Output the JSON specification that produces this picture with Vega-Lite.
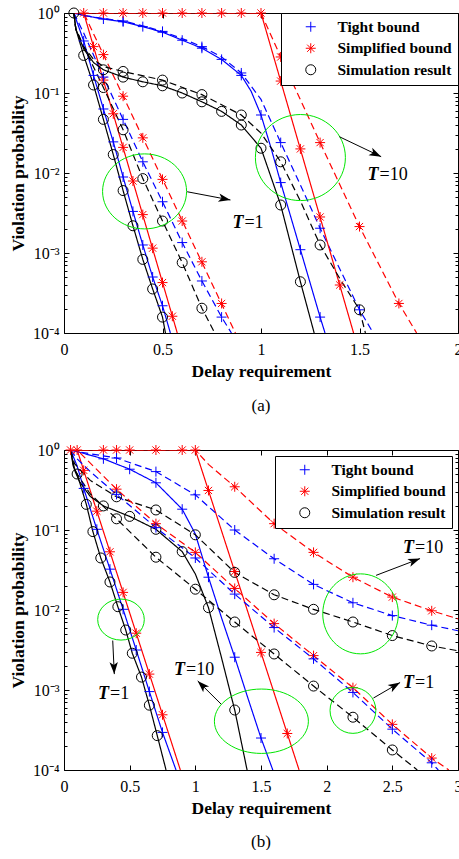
{
"$schema": "https://vega.github.io/schema/vega-lite/v6.json",
"padding": {"left": 9, "top": 5, "right": 0, "bottom": 0},
"spacing": 117,
"bounds": "flush",
"config": {
  "font": "Liberation Serif",
  "view": {"stroke": null},
  "axis": {"grid": false, "domainColor": "#000", "domainWidth": 1, "tickColor": "#000", "tickWidth": 1, "labelColor": "#000", "titleColor": "#000", "labelFont": "Liberation Serif", "titleFont": "Liberation Serif", "labelFontSize": 16, "titleFontSize": 17.5, "titleFontWeight": "bold", "labelFlush": false, "labelOverlap": false},
  "legend": {"fillColor": "white", "strokeColor": "black", "padding": 6, "symbolOffset": 16, "labelOffset": 19, "rowPadding": 4.5, "symbolSize": 100, "symbolStrokeWidth": 1, "labelFont": "Liberation Serif", "labelFontSize": 15.5, "labelFontWeight": "bold", "labelColor": "black", "cornerRadius": 0, "labelLimit": 250},
  "title": {"font": "Liberation Serif", "fontSize": 17, "fontWeight": "normal", "color": "#000"}
},
"datasets": {
"aLines": [
{"kind":"Tight bound","dash":"solid","T":1,"x":0.05,"y":1},{"kind":"Tight bound","dash":"solid","T":1,"x":0.1,"y":0.447},{"kind":"Tight bound","dash":"solid","T":1,"x":0.15,"y":0.166},{"kind":"Tight bound","dash":"solid","T":1,"x":0.2,"y":0.0631},{"kind":"Tight bound","dash":"solid","T":1,"x":0.25,"y":0.0245},{"kind":"Tight bound","dash":"solid","T":1,"x":0.3,"y":0.00891},{"kind":"Tight bound","dash":"solid","T":1,"x":0.35,"y":0.00331},{"kind":"Tight bound","dash":"solid","T":1,"x":0.4,"y":0.00126},{"kind":"Tight bound","dash":"solid","T":1,"x":0.45,"y":0.000501},{"kind":"Tight bound","dash":"solid","T":1,"x":0.5,"y":0.000219},{"kind":"Tight bound","dash":"solid","T":1,"x":0.54,"y":0.0001},
{"kind":"Simplified bound","dash":"solid","T":1,"x":0.05,"y":1},{"kind":"Simplified bound","dash":"solid","T":1,"x":0.1,"y":1},{"kind":"Simplified bound","dash":"solid","T":1,"x":0.575,"y":0.0001},
{"kind":"Simulation result","dash":"solid","T":1,"x":0.05,"y":1},{"kind":"Simulation result","dash":"solid","T":1,"x":0.06,"y":0.631},{"kind":"Simulation result","dash":"solid","T":1,"x":0.1,"y":0.295},{"kind":"Simulation result","dash":"solid","T":1,"x":0.15,"y":0.126},{"kind":"Simulation result","dash":"solid","T":1,"x":0.2,"y":0.0468},{"kind":"Simulation result","dash":"solid","T":1,"x":0.25,"y":0.017},{"kind":"Simulation result","dash":"solid","T":1,"x":0.3,"y":0.00603},{"kind":"Simulation result","dash":"solid","T":1,"x":0.35,"y":0.00219},{"kind":"Simulation result","dash":"solid","T":1,"x":0.4,"y":0.000832},{"kind":"Simulation result","dash":"solid","T":1,"x":0.45,"y":0.000355},{"kind":"Simulation result","dash":"solid","T":1,"x":0.5,"y":0.000158},{"kind":"Simulation result","dash":"solid","T":1,"x":0.515,"y":0.0001},
{"kind":"Tight bound","dash":"dashed","T":1,"x":0.05,"y":1},{"kind":"Tight bound","dash":"dashed","T":1,"x":0.1,"y":0.562},{"kind":"Tight bound","dash":"dashed","T":1,"x":0.2,"y":0.158},{"kind":"Tight bound","dash":"dashed","T":1,"x":0.3,"y":0.0468},{"kind":"Tight bound","dash":"dashed","T":1,"x":0.4,"y":0.0138},{"kind":"Tight bound","dash":"dashed","T":1,"x":0.5,"y":0.00437},{"kind":"Tight bound","dash":"dashed","T":1,"x":0.6,"y":0.00135},{"kind":"Tight bound","dash":"dashed","T":1,"x":0.7,"y":0.000447},{"kind":"Tight bound","dash":"dashed","T":1,"x":0.8,"y":0.000158},{"kind":"Tight bound","dash":"dashed","T":1,"x":0.85,"y":0.0001},
{"kind":"Simplified bound","dash":"dashed","T":1,"x":0.05,"y":1},{"kind":"Simplified bound","dash":"dashed","T":1,"x":0.1,"y":1},{"kind":"Simplified bound","dash":"dashed","T":1,"x":0.87,"y":0.0001},
{"kind":"Simulation result","dash":"dashed","T":1,"x":0.05,"y":1},{"kind":"Simulation result","dash":"dashed","T":1,"x":0.06,"y":0.631},{"kind":"Simulation result","dash":"dashed","T":1,"x":0.1,"y":0.38},{"kind":"Simulation result","dash":"dashed","T":1,"x":0.2,"y":0.117},{"kind":"Simulation result","dash":"dashed","T":1,"x":0.3,"y":0.0347},{"kind":"Simulation result","dash":"dashed","T":1,"x":0.4,"y":0.00851},{"kind":"Simulation result","dash":"dashed","T":1,"x":0.5,"y":0.00251},{"kind":"Simulation result","dash":"dashed","T":1,"x":0.6,"y":0.000759},{"kind":"Simulation result","dash":"dashed","T":1,"x":0.7,"y":0.000204},{"kind":"Simulation result","dash":"dashed","T":1,"x":0.765,"y":0.0001},
{"kind":"Tight bound","dash":"solid","T":10,"x":0.05,"y":1},{"kind":"Tight bound","dash":"solid","T":10,"x":0.1,"y":0.933},{"kind":"Tight bound","dash":"solid","T":10,"x":0.2,"y":0.841},{"kind":"Tight bound","dash":"solid","T":10,"x":0.3,"y":0.776},{"kind":"Tight bound","dash":"solid","T":10,"x":0.4,"y":0.676},{"kind":"Tight bound","dash":"solid","T":10,"x":0.5,"y":0.575},{"kind":"Tight bound","dash":"solid","T":10,"x":0.6,"y":0.457},{"kind":"Tight bound","dash":"solid","T":10,"x":0.7,"y":0.363},{"kind":"Tight bound","dash":"solid","T":10,"x":0.8,"y":0.263},{"kind":"Tight bound","dash":"solid","T":10,"x":0.9,"y":0.166},{"kind":"Tight bound","dash":"solid","T":10,"x":0.95,"y":0.105},{"kind":"Tight bound","dash":"solid","T":10,"x":1.0,"y":0.0531},{"kind":"Tight bound","dash":"solid","T":10,"x":1.05,"y":0.0209},{"kind":"Tight bound","dash":"solid","T":10,"x":1.1,"y":0.00759},{"kind":"Tight bound","dash":"solid","T":10,"x":1.2,"y":0.0011},{"kind":"Tight bound","dash":"solid","T":10,"x":1.3,"y":0.000158},{"kind":"Tight bound","dash":"solid","T":10,"x":1.325,"y":0.0001},
{"kind":"Tight bound","dash":"dashed","T":10,"x":0.05,"y":1},{"kind":"Tight bound","dash":"dashed","T":10,"x":0.1,"y":0.933},{"kind":"Tight bound","dash":"dashed","T":10,"x":0.2,"y":0.851},{"kind":"Tight bound","dash":"dashed","T":10,"x":0.3,"y":0.794},{"kind":"Tight bound","dash":"dashed","T":10,"x":0.4,"y":0.692},{"kind":"Tight bound","dash":"dashed","T":10,"x":0.5,"y":0.589},{"kind":"Tight bound","dash":"dashed","T":10,"x":0.6,"y":0.479},{"kind":"Tight bound","dash":"dashed","T":10,"x":0.7,"y":0.38},{"kind":"Tight bound","dash":"dashed","T":10,"x":0.8,"y":0.282},{"kind":"Tight bound","dash":"dashed","T":10,"x":0.9,"y":0.178},{"kind":"Tight bound","dash":"dashed","T":10,"x":1.0,"y":0.0832},{"kind":"Tight bound","dash":"dashed","T":10,"x":1.1,"y":0.024},{"kind":"Tight bound","dash":"dashed","T":10,"x":1.2,"y":0.00708},{"kind":"Tight bound","dash":"dashed","T":10,"x":1.3,"y":0.00204},{"kind":"Tight bound","dash":"dashed","T":10,"x":1.4,"y":0.000631},{"kind":"Tight bound","dash":"dashed","T":10,"x":1.5,"y":0.000195},{"kind":"Tight bound","dash":"dashed","T":10,"x":1.57,"y":0.0001},
{"kind":"Simplified bound","dash":"solid","T":10,"x":0.05,"y":1},{"kind":"Simplified bound","dash":"solid","T":10,"x":1.0,"y":1},{"kind":"Simplified bound","dash":"solid","T":10,"x":1.47,"y":0.0001},
{"kind":"Simplified bound","dash":"dashed","T":10,"x":0.05,"y":1},{"kind":"Simplified bound","dash":"dashed","T":10,"x":1.0,"y":1},{"kind":"Simplified bound","dash":"dashed","T":10,"x":1.1,"y":0.282},{"kind":"Simplified bound","dash":"dashed","T":10,"x":1.3,"y":0.024},{"kind":"Simplified bound","dash":"dashed","T":10,"x":1.5,"y":0.00214},{"kind":"Simplified bound","dash":"dashed","T":10,"x":1.7,"y":0.000234},{"kind":"Simplified bound","dash":"dashed","T":10,"x":1.79,"y":0.0001},
{"kind":"Simulation result","dash":"solid","T":10,"x":0.05,"y":1},{"kind":"Simulation result","dash":"solid","T":10,"x":0.06,"y":0.631},{"kind":"Simulation result","dash":"solid","T":10,"x":0.1,"y":0.355},{"kind":"Simulation result","dash":"solid","T":10,"x":0.15,"y":0.24},{"kind":"Simulation result","dash":"solid","T":10,"x":0.2,"y":0.195},{"kind":"Simulation result","dash":"solid","T":10,"x":0.3,"y":0.158},{"kind":"Simulation result","dash":"solid","T":10,"x":0.4,"y":0.138},{"kind":"Simulation result","dash":"solid","T":10,"x":0.5,"y":0.123},{"kind":"Simulation result","dash":"solid","T":10,"x":0.6,"y":0.1},{"kind":"Simulation result","dash":"solid","T":10,"x":0.7,"y":0.0776},{"kind":"Simulation result","dash":"solid","T":10,"x":0.8,"y":0.0589},{"kind":"Simulation result","dash":"solid","T":10,"x":0.9,"y":0.0398},{"kind":"Simulation result","dash":"solid","T":10,"x":1.0,"y":0.0204},{"kind":"Simulation result","dash":"solid","T":10,"x":1.1,"y":0.00398},{"kind":"Simulation result","dash":"solid","T":10,"x":1.2,"y":0.000437},{"kind":"Simulation result","dash":"solid","T":10,"x":1.27,"y":0.0001},
{"kind":"Simulation result","dash":"dashed","T":10,"x":0.05,"y":1},{"kind":"Simulation result","dash":"dashed","T":10,"x":0.06,"y":0.631},{"kind":"Simulation result","dash":"dashed","T":10,"x":0.1,"y":0.38},{"kind":"Simulation result","dash":"dashed","T":10,"x":0.15,"y":0.263},{"kind":"Simulation result","dash":"dashed","T":10,"x":0.2,"y":0.214},{"kind":"Simulation result","dash":"dashed","T":10,"x":0.3,"y":0.186},{"kind":"Simulation result","dash":"dashed","T":10,"x":0.5,"y":0.145},{"kind":"Simulation result","dash":"dashed","T":10,"x":0.7,"y":0.0955},{"kind":"Simulation result","dash":"dashed","T":10,"x":0.9,"y":0.0531},{"kind":"Simulation result","dash":"dashed","T":10,"x":1.0,"y":0.0316},{"kind":"Simulation result","dash":"dashed","T":10,"x":1.1,"y":0.0138},{"kind":"Simulation result","dash":"dashed","T":10,"x":1.2,"y":0.00447},{"kind":"Simulation result","dash":"dashed","T":10,"x":1.3,"y":0.00126},{"kind":"Simulation result","dash":"dashed","T":10,"x":1.4,"y":0.000479},{"kind":"Simulation result","dash":"dashed","T":10,"x":1.5,"y":0.000195},{"kind":"Simulation result","dash":"dashed","T":10,"x":1.53,"y":0.0001}
],
"aMarks": [
{"kind":"Tight bound","x":0.1,"y":0.447},{"kind":"Tight bound","x":0.15,"y":0.166},{"kind":"Tight bound","x":0.2,"y":0.0631},{"kind":"Tight bound","x":0.25,"y":0.0245},{"kind":"Tight bound","x":0.3,"y":0.00891},{"kind":"Tight bound","x":0.35,"y":0.00331},{"kind":"Tight bound","x":0.4,"y":0.00126},{"kind":"Tight bound","x":0.45,"y":0.000501},{"kind":"Tight bound","x":0.5,"y":0.000219},
{"kind":"Simplified bound","x":0.1,"y":1},{"kind":"Simplified bound","x":0.15,"y":0.38},{"kind":"Simplified bound","x":0.2,"y":0.145},{"kind":"Simplified bound","x":0.25,"y":0.055},{"kind":"Simplified bound","x":0.3,"y":0.0209},{"kind":"Simplified bound","x":0.35,"y":0.00794},{"kind":"Simplified bound","x":0.4,"y":0.00302},{"kind":"Simplified bound","x":0.45,"y":0.00115},{"kind":"Simplified bound","x":0.5,"y":0.000427},{"kind":"Simplified bound","x":0.55,"y":0.000162},
{"kind":"Simulation result","x":0.1,"y":0.295},{"kind":"Simulation result","x":0.15,"y":0.126},{"kind":"Simulation result","x":0.2,"y":0.0468},{"kind":"Simulation result","x":0.25,"y":0.017},{"kind":"Simulation result","x":0.3,"y":0.00603},{"kind":"Simulation result","x":0.35,"y":0.00219},{"kind":"Simulation result","x":0.4,"y":0.000832},{"kind":"Simulation result","x":0.45,"y":0.000355},{"kind":"Simulation result","x":0.5,"y":0.000158},
{"kind":"Tight bound","x":0.2,"y":0.158},{"kind":"Tight bound","x":0.3,"y":0.0468},{"kind":"Tight bound","x":0.4,"y":0.0138},{"kind":"Tight bound","x":0.5,"y":0.00437},{"kind":"Tight bound","x":0.6,"y":0.00135},{"kind":"Tight bound","x":0.7,"y":0.000447},{"kind":"Tight bound","x":0.8,"y":0.000158},
{"kind":"Simplified bound","x":0.2,"y":0.302},{"kind":"Simplified bound","x":0.3,"y":0.0912},{"kind":"Simplified bound","x":0.4,"y":0.0275},{"kind":"Simplified bound","x":0.5,"y":0.00832},{"kind":"Simplified bound","x":0.6,"y":0.00251},{"kind":"Simplified bound","x":0.7,"y":0.000776},{"kind":"Simplified bound","x":0.8,"y":0.000234},
{"kind":"Simulation result","x":0.2,"y":0.117},{"kind":"Simulation result","x":0.3,"y":0.0347},{"kind":"Simulation result","x":0.4,"y":0.00851},{"kind":"Simulation result","x":0.5,"y":0.00251},{"kind":"Simulation result","x":0.6,"y":0.000759},{"kind":"Simulation result","x":0.7,"y":0.000204},
{"kind":"Tight bound","x":0.2,"y":0.841},{"kind":"Tight bound","x":0.3,"y":0.776},{"kind":"Tight bound","x":0.4,"y":0.676},{"kind":"Tight bound","x":0.5,"y":0.575},{"kind":"Tight bound","x":0.6,"y":0.457},{"kind":"Tight bound","x":0.7,"y":0.363},{"kind":"Tight bound","x":0.8,"y":0.263},{"kind":"Tight bound","x":0.9,"y":0.166},{"kind":"Tight bound","x":1.0,"y":0.0531},{"kind":"Tight bound","x":1.1,"y":0.00759},{"kind":"Tight bound","x":1.2,"y":0.0011},{"kind":"Tight bound","x":1.3,"y":0.000158},
{"kind":"Tight bound","x":0.3,"y":0.794},{"kind":"Tight bound","x":0.5,"y":0.589},{"kind":"Tight bound","x":0.7,"y":0.38},{"kind":"Tight bound","x":0.9,"y":0.178},{"kind":"Tight bound","x":1.1,"y":0.024},{"kind":"Tight bound","x":1.3,"y":0.00204},{"kind":"Tight bound","x":1.5,"y":0.000195},
{"kind":"Simplified bound","x":0.2,"y":1},{"kind":"Simplified bound","x":0.3,"y":1},{"kind":"Simplified bound","x":0.4,"y":1},{"kind":"Simplified bound","x":0.5,"y":1},{"kind":"Simplified bound","x":0.6,"y":1},{"kind":"Simplified bound","x":0.7,"y":1},{"kind":"Simplified bound","x":0.8,"y":1},{"kind":"Simplified bound","x":0.9,"y":1},{"kind":"Simplified bound","x":1.0,"y":1},{"kind":"Simplified bound","x":1.1,"y":0.141},{"kind":"Simplified bound","x":1.2,"y":0.02},{"kind":"Simplified bound","x":1.3,"y":0.00282},{"kind":"Simplified bound","x":1.4,"y":0.000398},
{"kind":"Simplified bound","x":1.1,"y":0.282},{"kind":"Simplified bound","x":1.3,"y":0.024},{"kind":"Simplified bound","x":1.5,"y":0.00214},{"kind":"Simplified bound","x":1.7,"y":0.000234},
{"kind":"Simulation result","x":0.05,"y":1},{"kind":"Simulation result","x":0.2,"y":0.195},{"kind":"Simulation result","x":0.3,"y":0.158},{"kind":"Simulation result","x":0.4,"y":0.138},{"kind":"Simulation result","x":0.5,"y":0.123},{"kind":"Simulation result","x":0.6,"y":0.1},{"kind":"Simulation result","x":0.7,"y":0.0776},{"kind":"Simulation result","x":0.8,"y":0.0589},{"kind":"Simulation result","x":0.9,"y":0.0398},{"kind":"Simulation result","x":1.0,"y":0.0204},{"kind":"Simulation result","x":1.1,"y":0.00398},{"kind":"Simulation result","x":1.2,"y":0.000437},
{"kind":"Simulation result","x":0.3,"y":0.186},{"kind":"Simulation result","x":0.5,"y":0.145},{"kind":"Simulation result","x":0.7,"y":0.0955},{"kind":"Simulation result","x":0.9,"y":0.0531},{"kind":"Simulation result","x":1.1,"y":0.0138},{"kind":"Simulation result","x":1.3,"y":0.00126},{"kind":"Simulation result","x":1.5,"y":0.000195}
],
"bLines": [
{"kind":"Simplified bound","dash":"solid","T":1,"x":0.05,"y":1},{"kind":"Simplified bound","dash":"solid","T":1,"x":0.1,"y":1},{"kind":"Simplified bound","dash":"solid","T":1,"x":0.886,"y":0.0001},
{"kind":"Tight bound","dash":"solid","T":1,"x":0.05,"y":1},{"kind":"Tight bound","dash":"solid","T":1,"x":0.1,"y":0.631},{"kind":"Tight bound","dash":"solid","T":1,"x":0.15,"y":0.331},{"kind":"Tight bound","dash":"solid","T":1,"x":0.25,"y":0.102},{"kind":"Tight bound","dash":"solid","T":1,"x":0.35,"y":0.0324},{"kind":"Tight bound","dash":"solid","T":1,"x":0.45,"y":0.0102},{"kind":"Tight bound","dash":"solid","T":1,"x":0.55,"y":0.00316},{"kind":"Tight bound","dash":"solid","T":1,"x":0.65,"y":0.000955},{"kind":"Tight bound","dash":"solid","T":1,"x":0.75,"y":0.000295},{"kind":"Tight bound","dash":"solid","T":1,"x":0.853,"y":0.0001},
{"kind":"Simulation result","dash":"solid","T":1,"x":0.05,"y":1},{"kind":"Simulation result","dash":"solid","T":1,"x":0.07,"y":0.631},{"kind":"Simulation result","dash":"solid","T":1,"x":0.1,"y":0.501},{"kind":"Simulation result","dash":"solid","T":1,"x":0.17,"y":0.209},{"kind":"Simulation result","dash":"solid","T":1,"x":0.22,"y":0.0955},{"kind":"Simulation result","dash":"solid","T":1,"x":0.28,"y":0.0447},{"kind":"Simulation result","dash":"solid","T":1,"x":0.35,"y":0.0224},{"kind":"Simulation result","dash":"solid","T":1,"x":0.41,"y":0.011},{"kind":"Simulation result","dash":"solid","T":1,"x":0.47,"y":0.00562},{"kind":"Simulation result","dash":"solid","T":1,"x":0.52,"y":0.00288},{"kind":"Simulation result","dash":"solid","T":1,"x":0.59,"y":0.00145},{"kind":"Simulation result","dash":"solid","T":1,"x":0.65,"y":0.000646},{"kind":"Simulation result","dash":"solid","T":1,"x":0.71,"y":0.000269},{"kind":"Simulation result","dash":"solid","T":1,"x":0.777,"y":0.0001},
{"kind":"Simplified bound","dash":"solid","T":10,"x":0.05,"y":1},{"kind":"Simplified bound","dash":"solid","T":10,"x":1.0,"y":1},{"kind":"Simplified bound","dash":"solid","T":10,"x":1.79,"y":0.0001},
{"kind":"Tight bound","dash":"solid","T":10,"x":0.05,"y":1},{"kind":"Tight bound","dash":"solid","T":10,"x":0.1,"y":0.955},{"kind":"Tight bound","dash":"solid","T":10,"x":0.3,"y":0.776},{"kind":"Tight bound","dash":"solid","T":10,"x":0.5,"y":0.575},{"kind":"Tight bound","dash":"solid","T":10,"x":0.7,"y":0.389},{"kind":"Tight bound","dash":"solid","T":10,"x":0.9,"y":0.182},{"kind":"Tight bound","dash":"solid","T":10,"x":1.0,"y":0.0891},{"kind":"Tight bound","dash":"solid","T":10,"x":1.1,"y":0.0257},{"kind":"Tight bound","dash":"solid","T":10,"x":1.2,"y":0.00794},{"kind":"Tight bound","dash":"solid","T":10,"x":1.3,"y":0.00257},{"kind":"Tight bound","dash":"solid","T":10,"x":1.4,"y":0.000794},{"kind":"Tight bound","dash":"solid","T":10,"x":1.5,"y":0.000251},{"kind":"Tight bound","dash":"solid","T":10,"x":1.59,"y":0.0001},
{"kind":"Simulation result","dash":"solid","T":10,"x":0.05,"y":1},{"kind":"Simulation result","dash":"solid","T":10,"x":0.08,"y":0.562},{"kind":"Simulation result","dash":"solid","T":10,"x":0.12,"y":0.398},{"kind":"Simulation result","dash":"solid","T":10,"x":0.2,"y":0.263},{"kind":"Simulation result","dash":"solid","T":10,"x":0.3,"y":0.2},{"kind":"Simulation result","dash":"solid","T":10,"x":0.5,"y":0.148},{"kind":"Simulation result","dash":"solid","T":10,"x":0.7,"y":0.102},{"kind":"Simulation result","dash":"solid","T":10,"x":0.9,"y":0.0537},{"kind":"Simulation result","dash":"solid","T":10,"x":1.0,"y":0.0282},{"kind":"Simulation result","dash":"solid","T":10,"x":1.1,"y":0.0107},{"kind":"Simulation result","dash":"solid","T":10,"x":1.2,"y":0.00251},{"kind":"Simulation result","dash":"solid","T":10,"x":1.3,"y":0.000562},{"kind":"Simulation result","dash":"solid","T":10,"x":1.394,"y":0.0001},
{"kind":"Simplified bound","dash":"dashed","T":10,"x":0.05,"y":1},{"kind":"Simplified bound","dash":"dashed","T":10,"x":1.0,"y":1},{"kind":"Simplified bound","dash":"dashed","T":10,"x":1.1,"y":0.661},{"kind":"Simplified bound","dash":"dashed","T":10,"x":1.3,"y":0.347},{"kind":"Simplified bound","dash":"dashed","T":10,"x":1.6,"y":0.12},{"kind":"Simplified bound","dash":"dashed","T":10,"x":1.9,"y":0.0525},{"kind":"Simplified bound","dash":"dashed","T":10,"x":2.2,"y":0.0257},{"kind":"Simplified bound","dash":"dashed","T":10,"x":2.5,"y":0.0145},{"kind":"Simplified bound","dash":"dashed","T":10,"x":2.8,"y":0.00977},{"kind":"Simplified bound","dash":"dashed","T":10,"x":3.0,"y":0.00776},
{"kind":"Tight bound","dash":"dashed","T":10,"x":0.05,"y":1},{"kind":"Tight bound","dash":"dashed","T":10,"x":0.1,"y":0.955},{"kind":"Tight bound","dash":"dashed","T":10,"x":0.4,"y":0.794},{"kind":"Tight bound","dash":"dashed","T":10,"x":0.7,"y":0.537},{"kind":"Tight bound","dash":"dashed","T":10,"x":1.0,"y":0.275},{"kind":"Tight bound","dash":"dashed","T":10,"x":1.3,"y":0.1},{"kind":"Tight bound","dash":"dashed","T":10,"x":1.6,"y":0.0437},{"kind":"Tight bound","dash":"dashed","T":10,"x":1.9,"y":0.0209},{"kind":"Tight bound","dash":"dashed","T":10,"x":2.2,"y":0.0123},{"kind":"Tight bound","dash":"dashed","T":10,"x":2.5,"y":0.00851},{"kind":"Tight bound","dash":"dashed","T":10,"x":2.8,"y":0.00646},{"kind":"Tight bound","dash":"dashed","T":10,"x":3.0,"y":0.0055},
{"kind":"Simulation result","dash":"dashed","T":10,"x":0.05,"y":1},{"kind":"Simulation result","dash":"dashed","T":10,"x":0.08,"y":0.676},{"kind":"Simulation result","dash":"dashed","T":10,"x":0.2,"y":0.417},{"kind":"Simulation result","dash":"dashed","T":10,"x":0.4,"y":0.26},{"kind":"Simulation result","dash":"dashed","T":10,"x":0.7,"y":0.178},{"kind":"Simulation result","dash":"dashed","T":10,"x":1.0,"y":0.0871},{"kind":"Simulation result","dash":"dashed","T":10,"x":1.3,"y":0.0295},{"kind":"Simulation result","dash":"dashed","T":10,"x":1.6,"y":0.0155},{"kind":"Simulation result","dash":"dashed","T":10,"x":1.9,"y":0.0102},{"kind":"Simulation result","dash":"dashed","T":10,"x":2.2,"y":0.00708},{"kind":"Simulation result","dash":"dashed","T":10,"x":2.5,"y":0.00479},{"kind":"Simulation result","dash":"dashed","T":10,"x":2.8,"y":0.00355},{"kind":"Simulation result","dash":"dashed","T":10,"x":3.0,"y":0.00309},
{"kind":"Simplified bound","dash":"dashed","T":1,"x":0.05,"y":1},{"kind":"Simplified bound","dash":"dashed","T":1,"x":0.1,"y":1},{"kind":"Simplified bound","dash":"dashed","T":1,"x":0.4,"y":0.324},{"kind":"Simplified bound","dash":"dashed","T":1,"x":0.7,"y":0.12},{"kind":"Simplified bound","dash":"dashed","T":1,"x":1.0,"y":0.0525},{"kind":"Simplified bound","dash":"dashed","T":1,"x":1.3,"y":0.0186},{"kind":"Simplified bound","dash":"dashed","T":1,"x":1.6,"y":0.00676},{"kind":"Simplified bound","dash":"dashed","T":1,"x":1.9,"y":0.00269},{"kind":"Simplified bound","dash":"dashed","T":1,"x":2.2,"y":0.00107},{"kind":"Simplified bound","dash":"dashed","T":1,"x":2.5,"y":0.000372},{"kind":"Simplified bound","dash":"dashed","T":1,"x":2.8,"y":0.000141},{"kind":"Simplified bound","dash":"dashed","T":1,"x":2.93,"y":0.0001},
{"kind":"Tight bound","dash":"dashed","T":1,"x":0.05,"y":1},{"kind":"Tight bound","dash":"dashed","T":1,"x":0.1,"y":0.776},{"kind":"Tight bound","dash":"dashed","T":1,"x":0.2,"y":0.537},{"kind":"Tight bound","dash":"dashed","T":1,"x":0.4,"y":0.279},{"kind":"Tight bound","dash":"dashed","T":1,"x":0.7,"y":0.107},{"kind":"Tight bound","dash":"dashed","T":1,"x":1.0,"y":0.0447},{"kind":"Tight bound","dash":"dashed","T":1,"x":1.3,"y":0.0158},{"kind":"Tight bound","dash":"dashed","T":1,"x":1.6,"y":0.00603},{"kind":"Tight bound","dash":"dashed","T":1,"x":1.9,"y":0.00245},{"kind":"Tight bound","dash":"dashed","T":1,"x":2.2,"y":0.000933},{"kind":"Tight bound","dash":"dashed","T":1,"x":2.5,"y":0.000324},{"kind":"Tight bound","dash":"dashed","T":1,"x":2.8,"y":0.000123},{"kind":"Tight bound","dash":"dashed","T":1,"x":2.85,"y":0.0001},
{"kind":"Simulation result","dash":"dashed","T":1,"x":0.05,"y":1},{"kind":"Simulation result","dash":"dashed","T":1,"x":0.08,"y":0.562},{"kind":"Simulation result","dash":"dashed","T":1,"x":0.2,"y":0.282},{"kind":"Simulation result","dash":"dashed","T":1,"x":0.4,"y":0.138},{"kind":"Simulation result","dash":"dashed","T":1,"x":0.7,"y":0.0457},{"kind":"Simulation result","dash":"dashed","T":1,"x":1.0,"y":0.0182},{"kind":"Simulation result","dash":"dashed","T":1,"x":1.3,"y":0.00708},{"kind":"Simulation result","dash":"dashed","T":1,"x":1.6,"y":0.00282},{"kind":"Simulation result","dash":"dashed","T":1,"x":1.9,"y":0.00112},{"kind":"Simulation result","dash":"dashed","T":1,"x":2.2,"y":0.000457},{"kind":"Simulation result","dash":"dashed","T":1,"x":2.5,"y":0.000178},{"kind":"Simulation result","dash":"dashed","T":1,"x":2.69,"y":0.0001}
],
"bMarks": [
{"kind":"Simplified bound","x":0.05,"y":1},{"kind":"Simplified bound","x":0.1,"y":1},{"kind":"Simplified bound","x":0.15,"y":0.557},{"kind":"Simplified bound","x":0.25,"y":0.172},{"kind":"Simplified bound","x":0.35,"y":0.0534},{"kind":"Simplified bound","x":0.45,"y":0.0166},{"kind":"Simplified bound","x":0.55,"y":0.00513},{"kind":"Simplified bound","x":0.65,"y":0.00158},{"kind":"Simplified bound","x":0.75,"y":0.00049},
{"kind":"Tight bound","x":0.15,"y":0.331},{"kind":"Tight bound","x":0.25,"y":0.102},{"kind":"Tight bound","x":0.35,"y":0.0324},{"kind":"Tight bound","x":0.45,"y":0.0102},{"kind":"Tight bound","x":0.55,"y":0.00316},{"kind":"Tight bound","x":0.65,"y":0.000955},{"kind":"Tight bound","x":0.75,"y":0.000295},
{"kind":"Simulation result","x":0.1,"y":0.501},{"kind":"Simulation result","x":0.17,"y":0.209},{"kind":"Simulation result","x":0.22,"y":0.0955},{"kind":"Simulation result","x":0.28,"y":0.0447},{"kind":"Simulation result","x":0.35,"y":0.0224},{"kind":"Simulation result","x":0.41,"y":0.011},{"kind":"Simulation result","x":0.47,"y":0.00562},{"kind":"Simulation result","x":0.52,"y":0.00288},{"kind":"Simulation result","x":0.59,"y":0.00145},{"kind":"Simulation result","x":0.65,"y":0.000646},{"kind":"Simulation result","x":0.71,"y":0.000269},
{"kind":"Simplified bound","x":0.3,"y":1},{"kind":"Simplified bound","x":0.4,"y":1},{"kind":"Simplified bound","x":0.5,"y":1},{"kind":"Simplified bound","x":0.7,"y":1},{"kind":"Simplified bound","x":0.9,"y":1},{"kind":"Simplified bound","x":1.0,"y":1},{"kind":"Simplified bound","x":1.1,"y":0.312},{"kind":"Simplified bound","x":1.3,"y":0.0303},{"kind":"Simplified bound","x":1.5,"y":0.00295},{"kind":"Simplified bound","x":1.7,"y":0.000286},
{"kind":"Tight bound","x":0.3,"y":0.776},{"kind":"Tight bound","x":0.5,"y":0.575},{"kind":"Tight bound","x":0.7,"y":0.389},{"kind":"Tight bound","x":0.9,"y":0.182},{"kind":"Tight bound","x":1.1,"y":0.0257},{"kind":"Tight bound","x":1.3,"y":0.00257},{"kind":"Tight bound","x":1.5,"y":0.000251},
{"kind":"Simulation result","x":0.3,"y":0.2},{"kind":"Simulation result","x":0.5,"y":0.148},{"kind":"Simulation result","x":0.7,"y":0.102},{"kind":"Simulation result","x":0.9,"y":0.0537},{"kind":"Simulation result","x":1.1,"y":0.0107},{"kind":"Simulation result","x":1.3,"y":0.000562},
{"kind":"Simplified bound","x":1.3,"y":0.347},{"kind":"Simplified bound","x":1.6,"y":0.12},{"kind":"Simplified bound","x":1.9,"y":0.0525},{"kind":"Simplified bound","x":2.2,"y":0.0257},{"kind":"Simplified bound","x":2.5,"y":0.0145},{"kind":"Simplified bound","x":2.8,"y":0.00977},
{"kind":"Tight bound","x":0.4,"y":0.794},{"kind":"Tight bound","x":0.7,"y":0.537},{"kind":"Tight bound","x":1.0,"y":0.275},{"kind":"Tight bound","x":1.3,"y":0.1},{"kind":"Tight bound","x":1.6,"y":0.0437},{"kind":"Tight bound","x":1.9,"y":0.0209},{"kind":"Tight bound","x":2.2,"y":0.0123},{"kind":"Tight bound","x":2.5,"y":0.00851},{"kind":"Tight bound","x":2.8,"y":0.00646},
{"kind":"Simulation result","x":0.4,"y":0.26},{"kind":"Simulation result","x":0.7,"y":0.178},{"kind":"Simulation result","x":1.0,"y":0.0871},{"kind":"Simulation result","x":1.3,"y":0.0295},{"kind":"Simulation result","x":1.6,"y":0.0155},{"kind":"Simulation result","x":1.9,"y":0.0102},{"kind":"Simulation result","x":2.2,"y":0.00708},{"kind":"Simulation result","x":2.5,"y":0.00479},{"kind":"Simulation result","x":2.8,"y":0.00355},
{"kind":"Simplified bound","x":0.4,"y":0.324},{"kind":"Simplified bound","x":0.7,"y":0.12},{"kind":"Simplified bound","x":1.0,"y":0.0525},{"kind":"Simplified bound","x":1.3,"y":0.0186},{"kind":"Simplified bound","x":1.6,"y":0.00676},{"kind":"Simplified bound","x":1.9,"y":0.00269},{"kind":"Simplified bound","x":2.2,"y":0.00107},{"kind":"Simplified bound","x":2.5,"y":0.000372},{"kind":"Simplified bound","x":2.8,"y":0.000141},
{"kind":"Tight bound","x":0.4,"y":0.279},{"kind":"Tight bound","x":0.7,"y":0.107},{"kind":"Tight bound","x":1.0,"y":0.0447},{"kind":"Tight bound","x":1.3,"y":0.0158},{"kind":"Tight bound","x":1.6,"y":0.00603},{"kind":"Tight bound","x":1.9,"y":0.00245},{"kind":"Tight bound","x":2.2,"y":0.000933},{"kind":"Tight bound","x":2.5,"y":0.000324},{"kind":"Tight bound","x":2.8,"y":0.000123},
{"kind":"Simulation result","x":0.4,"y":0.138},{"kind":"Simulation result","x":0.7,"y":0.0457},{"kind":"Simulation result","x":1.0,"y":0.0182},{"kind":"Simulation result","x":1.3,"y":0.00708},{"kind":"Simulation result","x":1.6,"y":0.00282},{"kind":"Simulation result","x":1.9,"y":0.00112},{"kind":"Simulation result","x":2.2,"y":0.000457},{"kind":"Simulation result","x":2.5,"y":0.000178}
]
},
"vconcat": [
{
 "width": 394, "height": 320,
 "title": {"text": "(a)", "orient": "bottom", "offset": 18, "frame": "group", "anchor": "middle"},
 "resolve": {"axis": {"x": "independent", "y": "independent"}},
 "layer": [
  {
   "data": {"name": "aLines"},
   "mark": {"type": "line", "strokeWidth": 1.2, "clip": true},
   "encoding": {
    "x": {"field": "x", "type": "quantitative", "scale": {"domain": [0, 2], "nice": false, "zero": false},
          "axis": {"orient": "bottom", "values": [0, 0.5, 1, 1.5, 2], "format": "~g", "title": "Delay requirement", "tickSize": -5, "labelPadding": 13, "titlePadding": 5}},
    "y": {"field": "y", "type": "quantitative", "scale": {"type": "log", "domain": [0.0001, 1], "nice": false},
          "axis": {"orient": "left", "values": [0.0001,0.0002,0.0003,0.0004,0.0005,0.0006,0.0007,0.0008,0.0009,0.001,0.002,0.003,0.004,0.005,0.006,0.007,0.008,0.009,0.01,0.02,0.03,0.04,0.05,0.06,0.07,0.08,0.09,0.1,0.2,0.3,0.4,0.5,0.6,0.7,0.8,0.9,1],
                   "labelExpr": "abs(log(datum.value)/LN10 - round(log(datum.value)/LN10)) < 0.01 ? ['10\u2070','10\u207b\u00b9','10\u207b\u00b2','10\u207b\u00b3','10\u207b\u2074'][-round(log(datum.value)/LN10)] : ''",
                   "title": "Violation probability", "tickSize": {"condition": {"test": "abs(log(datum.value)/LN10 - round(log(datum.value)/LN10)) < 0.01", "value": -5}, "value": -3}, "labelPadding": 10, "titlePadding": 5}},
    "stroke": {"field": "kind", "type": "nominal", "scale": {"range": ["#ff0000", "#000000", "#0000ff"]}, "legend": null},
    "strokeDash": {"field": "dash", "type": "nominal", "scale": {"domain": ["solid", "dashed"], "range": [[1, 0], [7, 4]]}, "legend": null},
    "detail": {"field": "T", "type": "nominal"}
   }
  },
  {
   "data": {"name": "aMarks"},
   "mark": {"type": "point", "filled": false, "size": 100, "strokeWidth": 1, "opacity": 1},
   "encoding": {
    "x": {"field": "x", "type": "quantitative", "scale": {"domain": [0, 2], "nice": false, "zero": false},
          "axis": {"orient": "top", "values": [0, 0.5, 1, 1.5, 2], "labels": false, "title": null, "tickSize": -5}},
    "y": {"field": "y", "type": "quantitative", "scale": {"type": "log", "domain": [0.0001, 1], "nice": false},
          "axis": {"orient": "right", "values": [0.0001,0.0002,0.0003,0.0004,0.0005,0.0006,0.0007,0.0008,0.0009,0.001,0.002,0.003,0.004,0.005,0.006,0.007,0.008,0.009,0.01,0.02,0.03,0.04,0.05,0.06,0.07,0.08,0.09,0.1,0.2,0.3,0.4,0.5,0.6,0.7,0.8,0.9,1],
                   "labels": false, "title": null, "tickSize": {"condition": {"test": "abs(log(datum.value)/LN10 - round(log(datum.value)/LN10)) < 0.01", "value": -5}, "value": -3}}},
    "color": {"field": "kind", "type": "nominal", "scale": {"domain": ["Tight bound", "Simplified bound", "Simulation result"], "range": ["#0000ff", "#ff0000", "#000000"]}, "legend": {"orient": "top-right", "offset": 0, "title": null}},
    "shape": {"field": "kind", "type": "nominal", "scale": {"domain": ["Tight bound", "Simplified bound", "Simulation result"], "range": ["M -1 0 L 1 0 M 0 -1 L 0 1", "M -1 0 L 1 0 M 0 -1 L 0 1 M -0.72 -0.72 L 0.72 0.72 M -0.72 0.72 L 0.72 -0.72", "circle"]}, "legend": {"orient": "top-right", "offset": 0, "title": null}}
   }
  },
  {
   "data": {"values": [{"x": 0.409, "y": 0.00589}]},
   "mark": {"type": "point", "shape": "M 1 0 C 1 0.493 0.552 0.893 0 0.893 C -0.552 0.893 -1 0.493 -1 0 C -1 -0.493 -0.552 -0.893 0 -0.893 C 0.552 -0.893 1 -0.493 1 0 Z", "size": 7056, "filled": false, "stroke": "#00e600", "strokeWidth": 1, "opacity": 1},
   "encoding": {"x": {"field": "x", "type": "quantitative", "scale": {"domain": [0, 2]}, "axis": null}, "y": {"field": "y", "type": "quantitative", "scale": {"type": "log", "domain": [0.0001, 1]}, "axis": null}}
  },
  {
   "data": {"values": [{"x": 1.2, "y": 0.0156}]},
   "mark": {"type": "point", "shape": "M 1 0 C 1 0.528 0.552 0.956 0 0.956 C -0.552 0.956 -1 0.528 -1 0 C -1 -0.528 -0.552 -0.956 0 -0.956 C 0.552 -0.956 1 -0.528 1 0 Z", "size": 8100, "filled": false, "stroke": "#00e600", "strokeWidth": 1, "opacity": 1},
   "encoding": {"x": {"field": "x", "type": "quantitative", "scale": {"domain": [0, 2]}, "axis": null}, "y": {"field": "y", "type": "quantitative", "scale": {"type": "log", "domain": [0.0001, 1]}, "axis": null}}
  },
  {
   "data": {"values": [{"x": 0.625, "y": 0.00583, "x2": 0.845, "y2": 0.0046}, {"x": 1.398, "y": 0.0284, "x2": 1.61, "y2": 0.016}]},
   "mark": {"type": "rule", "color": "black", "strokeWidth": 1},
   "encoding": {"x": {"field": "x", "type": "quantitative", "scale": {"domain": [0, 2]}, "axis": null}, "y": {"field": "y", "type": "quantitative", "scale": {"type": "log", "domain": [0.0001, 1]}, "axis": null}, "x2": {"field": "x2"}, "y2": {"field": "y2"}}
  },
  {
   "data": {"values": [{"x": 0.845, "y": 0.0046}]},
   "mark": {"type": "point", "shape": "M 0 0 L -2 -0.7 L -1.5 0 L -2 0.7 Z", "size": 144, "filled": true, "color": "black", "opacity": 1, "angle": 11},
   "encoding": {"x": {"field": "x", "type": "quantitative", "scale": {"domain": [0, 2]}, "axis": null}, "y": {"field": "y", "type": "quantitative", "scale": {"type": "log", "domain": [0.0001, 1]}, "axis": null}}
  },
  {
   "data": {"values": [{"x": 1.61, "y": 0.016}]},
   "mark": {"type": "point", "shape": "M 0 0 L -2 -0.7 L -1.5 0 L -2 0.7 Z", "size": 144, "filled": true, "color": "black", "opacity": 1, "angle": 26},
   "encoding": {"x": {"field": "x", "type": "quantitative", "scale": {"domain": [0, 2]}, "axis": null}, "y": {"field": "y", "type": "quantitative", "scale": {"type": "log", "domain": [0.0001, 1]}, "axis": null}}
  },
  {
   "data": {"values": [{"x": 0.855, "y": 0.00237, "rest": "=1"}, {"x": 1.541, "y": 0.00944, "rest": "=10"}]},
   "mark": {"type": "text", "text": "T", "align": "left", "baseline": "middle", "fontSize": 18, "fontWeight": "bold", "fontStyle": "italic", "font": "Liberation Serif", "color": "black"},
   "encoding": {"x": {"field": "x", "type": "quantitative", "scale": {"domain": [0, 2]}, "axis": null}, "y": {"field": "y", "type": "quantitative", "scale": {"type": "log", "domain": [0.0001, 1]}, "axis": null}}
  },
  {
   "data": {"values": [{"x": 0.855, "y": 0.00237, "rest": "=1"}, {"x": 1.541, "y": 0.00944, "rest": "=10"}]},
   "mark": {"type": "text", "align": "left", "baseline": "middle", "fontSize": 18, "font": "Liberation Serif", "color": "black", "dx": 12},
   "encoding": {"x": {"field": "x", "type": "quantitative", "scale": {"domain": [0, 2]}, "axis": null}, "y": {"field": "y", "type": "quantitative", "scale": {"type": "log", "domain": [0.0001, 1]}, "axis": null}, "text": {"field": "rest"}}
  }
 ]
},
{
 "width": 394, "height": 320,
 "title": {"text": "(b)", "orient": "bottom", "offset": 17, "frame": "group", "anchor": "middle"},
 "resolve": {"axis": {"x": "independent", "y": "independent"}},
 "layer": [
  {
   "data": {"name": "bLines"},
   "mark": {"type": "line", "strokeWidth": 1.2, "clip": true},
   "encoding": {
    "x": {"field": "x", "type": "quantitative", "scale": {"domain": [0, 3], "nice": false, "zero": false},
          "axis": {"orient": "bottom", "values": [0, 0.5, 1, 1.5, 2, 2.5, 3], "format": "~g", "title": "Delay requirement", "tickSize": -5, "labelPadding": 13, "titlePadding": 5}},
    "y": {"field": "y", "type": "quantitative", "scale": {"type": "log", "domain": [0.0001, 1], "nice": false},
          "axis": {"orient": "left", "values": [0.0001,0.0002,0.0003,0.0004,0.0005,0.0006,0.0007,0.0008,0.0009,0.001,0.002,0.003,0.004,0.005,0.006,0.007,0.008,0.009,0.01,0.02,0.03,0.04,0.05,0.06,0.07,0.08,0.09,0.1,0.2,0.3,0.4,0.5,0.6,0.7,0.8,0.9,1],
                   "labelExpr": "abs(log(datum.value)/LN10 - round(log(datum.value)/LN10)) < 0.01 ? ['10\u2070','10\u207b\u00b9','10\u207b\u00b2','10\u207b\u00b3','10\u207b\u2074'][-round(log(datum.value)/LN10)] : ''",
                   "title": "Violation probability", "tickSize": {"condition": {"test": "abs(log(datum.value)/LN10 - round(log(datum.value)/LN10)) < 0.01", "value": -5}, "value": -3}, "labelPadding": 10, "titlePadding": 5}},
    "stroke": {"field": "kind", "type": "nominal", "scale": {"range": ["#ff0000", "#000000", "#0000ff"]}, "legend": null},
    "strokeDash": {"field": "dash", "type": "nominal", "scale": {"domain": ["solid", "dashed"], "range": [[1, 0], [7, 4]]}, "legend": null},
    "detail": {"field": "T", "type": "nominal"}
   }
  },
  {
   "data": {"name": "bMarks"},
   "mark": {"type": "point", "filled": false, "size": 100, "strokeWidth": 1, "opacity": 1},
   "encoding": {
    "x": {"field": "x", "type": "quantitative", "scale": {"domain": [0, 3], "nice": false, "zero": false},
          "axis": {"orient": "top", "values": [0, 0.5, 1, 1.5, 2, 2.5, 3], "labels": false, "title": null, "tickSize": -5}},
    "y": {"field": "y", "type": "quantitative", "scale": {"type": "log", "domain": [0.0001, 1], "nice": false},
          "axis": {"orient": "right", "values": [0.0001,0.0002,0.0003,0.0004,0.0005,0.0006,0.0007,0.0008,0.0009,0.001,0.002,0.003,0.004,0.005,0.006,0.007,0.008,0.009,0.01,0.02,0.03,0.04,0.05,0.06,0.07,0.08,0.09,0.1,0.2,0.3,0.4,0.5,0.6,0.7,0.8,0.9,1],
                   "labels": false, "title": null, "tickSize": {"condition": {"test": "abs(log(datum.value)/LN10 - round(log(datum.value)/LN10)) < 0.01", "value": -5}, "value": -3}}},
    "color": {"field": "kind", "type": "nominal", "scale": {"domain": ["Tight bound", "Simplified bound", "Simulation result"], "range": ["#0000ff", "#ff0000", "#000000"]}, "legend": {"orient": "top-right", "offset": 6, "title": null}},
    "shape": {"field": "kind", "type": "nominal", "scale": {"domain": ["Tight bound", "Simplified bound", "Simulation result"], "range": ["M -1 0 L 1 0 M 0 -1 L 0 1", "M -1 0 L 1 0 M 0 -1 L 0 1 M -0.72 -0.72 L 0.72 0.72 M -0.72 0.72 L 0.72 -0.72", "circle"]}, "legend": {"orient": "top-right", "offset": 6, "title": null}}
   }
  },
  {
   "data": {"values": [{"x": 0.434, "y": 0.00759}]},
   "mark": {"type": "point", "shape": "M 1 0 C 1 0.486 0.552 0.88 0 0.88 C -0.552 0.88 -1 0.486 -1 0 C -1 -0.486 -0.552 -0.88 0 -0.88 C 0.552 -0.88 1 -0.486 1 0 Z", "size": 2172, "filled": false, "stroke": "#00e600", "strokeWidth": 1, "opacity": 1},
   "encoding": {"x": {"field": "x", "type": "quantitative", "scale": {"domain": [0, 3]}, "axis": null}, "y": {"field": "y", "type": "quantitative", "scale": {"type": "log", "domain": [0.0001, 1]}, "axis": null}}
  },
  {
   "data": {"values": [{"x": 1.503, "y": 0.000407}]},
   "mark": {"type": "point", "shape": "M 1 0 C 1 0.378 0.552 0.685 0 0.685 C -0.552 0.685 -1 0.378 -1 0 C -1 -0.378 -0.552 -0.685 0 -0.685 C 0.552 -0.685 1 -0.378 1 0 Z", "size": 8836, "filled": false, "stroke": "#00e600", "strokeWidth": 1, "opacity": 1},
   "encoding": {"x": {"field": "x", "type": "quantitative", "scale": {"domain": [0, 3]}, "axis": null}, "y": {"field": "y", "type": "quantitative", "scale": {"type": "log", "domain": [0.0001, 1]}, "axis": null}}
  },
  {
   "data": {"values": [{"x": 2.258, "y": 0.00895}]},
   "mark": {"type": "point", "shape": "M 1 0 C 1 0.584 0.552 1.058 0 1.058 C -0.552 1.058 -1 0.584 -1 0 C -1 -0.584 -0.552 -1.058 0 -1.058 C 0.552 -1.058 1 -0.584 1 0 Z", "size": 5715, "filled": false, "stroke": "#00e600", "strokeWidth": 1, "opacity": 1},
   "encoding": {"x": {"field": "x", "type": "quantitative", "scale": {"domain": [0, 3]}, "axis": null}, "y": {"field": "y", "type": "quantitative", "scale": {"type": "log", "domain": [0.0001, 1]}, "axis": null}}
  },
  {
   "data": {"values": [{"x": 2.2, "y": 0.000555}]},
   "mark": {"type": "point", "shape": "circle", "size": 2098, "filled": false, "stroke": "#00e600", "strokeWidth": 1, "opacity": 1},
   "encoding": {"x": {"field": "x", "type": "quantitative", "scale": {"domain": [0, 3]}, "axis": null}, "y": {"field": "y", "type": "quantitative", "scale": {"type": "log", "domain": [0.0001, 1]}, "axis": null}}
  },
  {
   "data": {"values": [{"x": 0.371, "y": 0.00415, "x2": 0.383, "y2": 0.00158}, {"x": 1.196, "y": 0.000667, "x2": 1.018, "y2": 0.0013}, {"x": 2.376, "y": 0.0271, "x2": 2.711, "y2": 0.0439}, {"x": 2.356, "y": 0.000793, "x2": 2.559, "y2": 0.00124}]},
   "mark": {"type": "rule", "color": "black", "strokeWidth": 1},
   "encoding": {"x": {"field": "x", "type": "quantitative", "scale": {"domain": [0, 3]}, "axis": null}, "y": {"field": "y", "type": "quantitative", "scale": {"type": "log", "domain": [0.0001, 1]}, "axis": null}, "x2": {"field": "x2"}, "y2": {"field": "y2"}}
  },
  {
   "data": {"values": [{"x": 0.383, "y": 0.00158}]},
   "mark": {"type": "point", "shape": "M 0 0 L -2 -0.7 L -1.5 0 L -2 0.7 Z", "size": 144, "filled": true, "color": "black", "opacity": 1, "angle": 87},
   "encoding": {"x": {"field": "x", "type": "quantitative", "scale": {"domain": [0, 3]}, "axis": null}, "y": {"field": "y", "type": "quantitative", "scale": {"type": "log", "domain": [0.0001, 1]}, "axis": null}}
  },
  {
   "data": {"values": [{"x": 1.018, "y": 0.0013}]},
   "mark": {"type": "point", "shape": "M 0 0 L -2 -0.7 L -1.5 0 L -2 0.7 Z", "size": 144, "filled": true, "color": "black", "opacity": 1, "angle": 225},
   "encoding": {"x": {"field": "x", "type": "quantitative", "scale": {"domain": [0, 3]}, "axis": null}, "y": {"field": "y", "type": "quantitative", "scale": {"type": "log", "domain": [0.0001, 1]}, "axis": null}}
  },
  {
   "data": {"values": [{"x": 2.711, "y": 0.0439}]},
   "mark": {"type": "point", "shape": "M 0 0 L -2 -0.7 L -1.5 0 L -2 0.7 Z", "size": 144, "filled": true, "color": "black", "opacity": 1, "angle": 339},
   "encoding": {"x": {"field": "x", "type": "quantitative", "scale": {"domain": [0, 3]}, "axis": null}, "y": {"field": "y", "type": "quantitative", "scale": {"type": "log", "domain": [0.0001, 1]}, "axis": null}}
  },
  {
   "data": {"values": [{"x": 2.559, "y": 0.00124}]},
   "mark": {"type": "point", "shape": "M 0 0 L -2 -0.7 L -1.5 0 L -2 0.7 Z", "size": 144, "filled": true, "color": "black", "opacity": 1, "angle": 330},
   "encoding": {"x": {"field": "x", "type": "quantitative", "scale": {"domain": [0, 3]}, "axis": null}, "y": {"field": "y", "type": "quantitative", "scale": {"type": "log", "domain": [0.0001, 1]}, "axis": null}}
  },
  {
   "data": {"values": [{"x": 0.259, "y": 0.000897, "rest": "=1"}, {"x": 0.838, "y": 0.00179, "rest": "=10"}, {"x": 2.582, "y": 0.059, "rest": "=10"}, {"x": 2.582, "y": 0.00123, "rest": "=1"}]},
   "mark": {"type": "text", "text": "T", "align": "left", "baseline": "middle", "fontSize": 18, "fontWeight": "bold", "fontStyle": "italic", "font": "Liberation Serif", "color": "black"},
   "encoding": {"x": {"field": "x", "type": "quantitative", "scale": {"domain": [0, 3]}, "axis": null}, "y": {"field": "y", "type": "quantitative", "scale": {"type": "log", "domain": [0.0001, 1]}, "axis": null}}
  },
  {
   "data": {"values": [{"x": 0.259, "y": 0.000897, "rest": "=1"}, {"x": 0.838, "y": 0.00179, "rest": "=10"}, {"x": 2.582, "y": 0.059, "rest": "=10"}, {"x": 2.582, "y": 0.00123, "rest": "=1"}]},
   "mark": {"type": "text", "align": "left", "baseline": "middle", "fontSize": 18, "font": "Liberation Serif", "color": "black", "dx": 12},
   "encoding": {"x": {"field": "x", "type": "quantitative", "scale": {"domain": [0, 3]}, "axis": null}, "y": {"field": "y", "type": "quantitative", "scale": {"type": "log", "domain": [0.0001, 1]}, "axis": null}, "text": {"field": "rest"}}
  }
 ]
}
],
"resolve": {"scale": {"color": "independent", "shape": "independent", "stroke": "independent", "strokeDash": "independent"}, "legend": {"color": "independent", "shape": "independent"}}
}
